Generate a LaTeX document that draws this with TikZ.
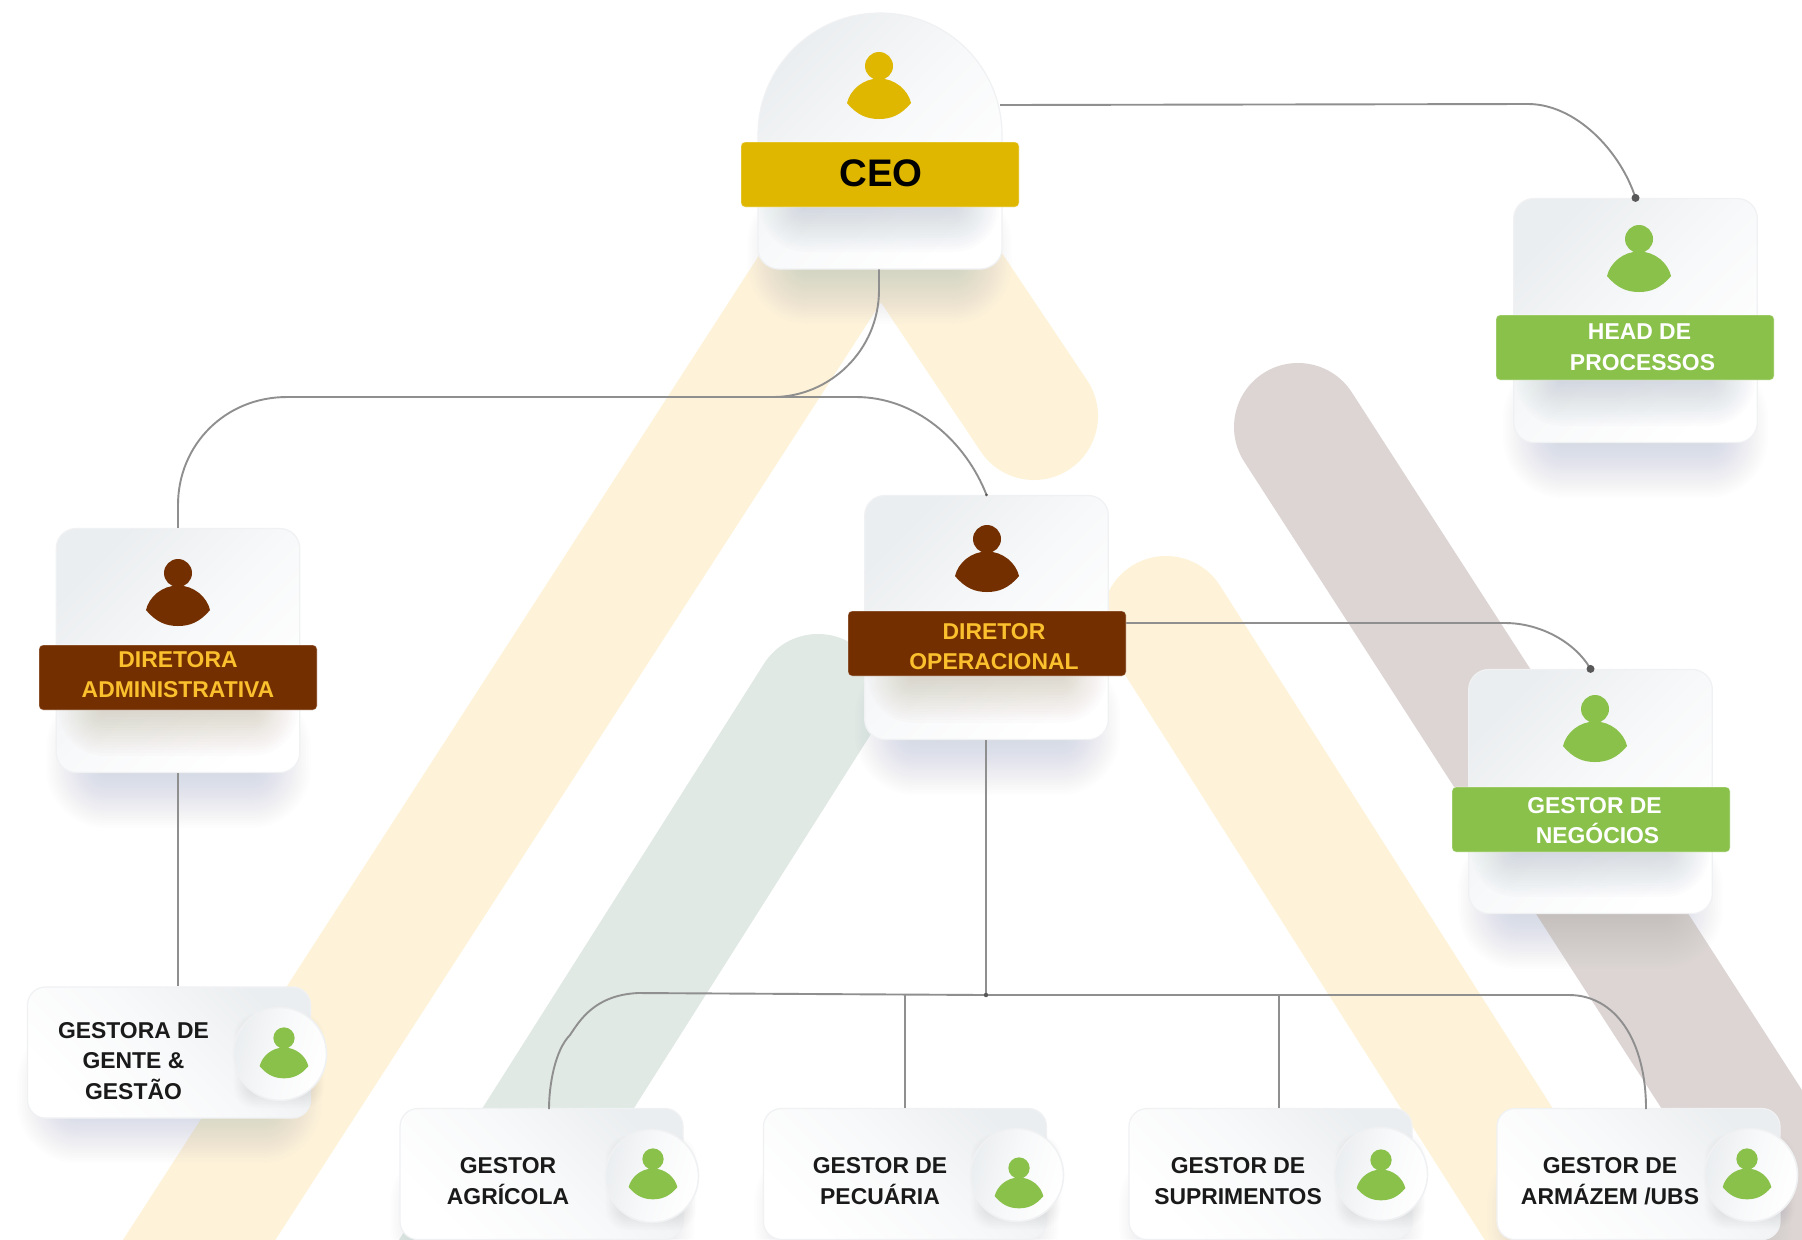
\documentclass[tikz,border=0pt]{standalone}
\usepackage{fontspec}
\setmainfont{Liberation Sans}
\usetikzlibrary{calc}
\definecolor{cyellow}{HTML}{DFB700}
\definecolor{cgreen}{HTML}{8AC14B}
\definecolor{cbrown}{HTML}{742F00}
\definecolor{ctext}{HTML}{FBC02D}
\definecolor{cdark}{HTML}{1A1A1A}
\definecolor{sy}{HTML}{FEF3D9}
\definecolor{sg}{HTML}{E0E9E3}
\definecolor{sb}{HTML}{DDD5D3}
\definecolor{cline}{HTML}{8F8F8F}
\definecolor{cedge}{HTML}{F0F1F3}
\definecolor{cgrey}{HTML}{EBEEF0}
\definecolor{cmid}{HTML}{F8F9FA}
\definecolor{shb}{HTML}{6E78AA}
\definecolor{shr}{HTML}{8A4A30}
\definecolor{shc}{HTML}{5A6478}
\tikzset{
  x=0.5pt,y=-0.5pt,
  stripe/.style={line width=64pt,line cap=round,line join=round},
  conn/.style={draw=cline,line width=0.95pt},
  vcard/.style={draw=cedge,line width=0.6pt,rounded corners=10pt,minimum width=121.8pt,minimum height=122pt,inner sep=0pt,
    top color=cgrey,bottom color=white,middle color=cmid,shading angle=45},
  hcard/.style={draw=cedge,line width=0.6pt,rounded corners=9pt,minimum width=141.5pt,minimum height=65.5pt,inner sep=0pt,
    top color=cgrey,bottom color=white,middle color=cmid,shading angle=-45},
  banner/.style={rounded corners=2pt,minimum width=139pt,minimum height=32.5pt,inner sep=0pt,draw=white,draw opacity=.45,line width=.4pt},
  ball/.style={circle,draw=cedge,line width=0.8pt,minimum size=46.5pt,inner sep=0pt,
    top color=cgrey,bottom color=white,middle color=cmid,shading angle=75},
  lab/.style={font=\bfseries\fontsize{11.45}{15.25}\selectfont,align=center,inner sep=0pt},
  dotn/.style={circle,fill=#1,minimum size=4pt,inner sep=0pt},
}
% soft shadow: x1 y1 x2 y2 colour steps growth opacity
\newcommand{\softsh}[8]{%
  \foreach \i in {#6,...,1}{%
    \pgfmathsetmacro{\gr}{\i*#7}
    \fill[#5,opacity=#8,rounded corners=\gr*0.5pt]
      (#1-\gr,#2-\gr) rectangle (#3+\gr,#4+\gr);
  }}
% person icon: head centre x y, scale, colour
\newcommand{\person}[4]{%
  \begin{scope}[shift={(#1,#2)}]
   \fill[#4] (0,0) circle[radius=#3*7pt];
   \fill[#4] (-32*#3,37*#3) .. controls (-29*#3,24*#3) and (-16*#3,12.5*#3) .. (0,12.5*#3)
      .. controls (16*#3,12.5*#3) and (29*#3,24*#3) .. (32*#3,37*#3)
      .. controls (22*#3,49*#3) and (12*#3,53*#3) .. (0,53*#3)
      .. controls (-12*#3,53*#3) and (-22*#3,49*#3) .. (-32*#3,37*#3) -- cycle;
  \end{scope}}
\newcommand{\vshadow}[2]{\softsh{#1+50}{#2+220}{#1+195}{#2+240}{shc}{24}{2.5}{0.008}}
\newcommand{\bannersh}[3]{\softsh{#1+48}{#2+170}{#1+197}{#2+183}{#3}{16}{2.8}{0.015}}
\newcommand{\bannershr}[2]{\softsh{#1+48}{#2+170}{#1+197}{#2+183}{shr}{16}{2.8}{0.01}}
\newcommand{\hshadow}[2]{\softsh{#1+50}{#2+95}{#1+235}{#2+116}{shc}{24}{2.5}{0.008}}
\newcommand{\ballsh}[2]{\softsh{#1-24}{#2-18}{#1+22}{#2+32}{shc}{14}{1.6}{0.012}}
\begin{document}
\begin{tikzpicture}
\useasboundingbox (0,0) rectangle (1802,1239);
\clip (0,0) rectangle (1802,1239);
\fill[white] (0,0) rectangle (1802,1239);
% background stripes
\draw[stripe,sy] (57,1460) -- (880,186) -- (1034,416);
\draw[stripe,sy] (1166,620) -- (1560,1239) -- (1640,1365);
\draw[stripe,sg] (818,698) -- (405,1350);
\draw[stripe,sb] (1298,427) -- (1900,1360);
% shadows under cards
\vshadow{1513}{198}
\vshadow{56}{528}
\vshadow{865}{495}
\vshadow{1468}{669}
\vshadow{757}{24}
\hshadow{27}{987}
\hshadow{400}{1109}
\hshadow{764}{1109}
\hshadow{1129}{1109}
\hshadow{1497}{1109}
% CEO card
\path[draw=cedge,line width=0.6pt,top color=cgrey,bottom color=white,middle color=cmid,shading angle=45]
  (758,249) .. controls (758,260) and (768,269) .. (779,269) -- (980,269)
  .. controls (991,269) and (1002,260) .. (1002,249) -- (1002,135)
  .. controls (1002,67) and (947,13) .. (880,13)
  .. controls (813,13) and (758,67) .. (758,135) -- cycle;
\node[minimum width=122pt,minimum height=128pt,inner sep=0pt] (ceocard) at (879,141) {};
% vertical cards
\node[vcard] (headcard) at (1635.5,320.5) {};
\node[vcard] (diracard) at (178,650.5) {};
\node[vcard] (diroCard) at (986.5,617.5) {};
\node[vcard] (negcard) at (1590.5,791.5) {};
\bannersh{757}{24}{shb}
\bannersh{1513}{198}{shb}
\bannershr{56}{528}
\bannershr{865}{495}
\bannersh{1468}{669}{shb}
% horizontal cards
\node[hcard] (gentecard) at (169,1052.5) {};
\node[hcard] (agrcard) at (541.5,1174) {};
\node[hcard] (peccard) at (905,1174) {};
\node[hcard] (supcard) at (1270.5,1174) {};
\node[hcard] (armcard) at (1638.5,1174) {};
% connectors
\coordinate (ceoright) at (1000,105);
\coordinate (a1) at (1528,104);
\draw[conn] (ceoright) -- (a1) .. controls (1575,104) and (1620,150) .. (headcard.north);
\coordinate (b1) at (879,290);
\coordinate (b2) at (773,397);
\coordinate (b3) at (287,397);
\coordinate (b4) at (856,397);
\draw[conn] (ceocard.south) -- (b1) .. controls (879,350) and (830,397) .. (b2) -- (b3)
   .. controls (225,397) and (178,445) .. (178,505) -- (diracard.north);
\draw[conn] (b2) -- (b4) .. controls (915,397) and (965,440) .. (diroCard.north);
\coordinate (c1) at (1505,623);
\draw[conn] (1126,623) -- (c1) .. controls (1540,623) and (1575,642) .. (negcard.north);
\draw[conn] (diracard.south) -- (gentecard.north -| diracard.south);
\coordinate (bus) at (986,995);
\draw[conn] (bus |- diroCard.south) -- (bus);
\coordinate (busl) at (638,993);
\coordinate (busr) at (1569,995);
\coordinate (jp) at (905,994);
\coordinate (js) at (1279,994);
\draw[conn] (busl) -- (bus) -- (busr);
\draw[conn] (busl) .. controls (595,995) and (580,1020) .. (570,1035) .. controls (555,1050) and (549,1085) .. (549,1109);
\draw[conn] (busr) .. controls (1615,995) and (1646,1040) .. (1646,1109);
\draw[conn] (jp) -- (jp |- peccard.north);
\draw[conn] (js) -- (js |- supcard.north);
\node[dotn=black!65] (d1) at (headcard.north) {};
\node[dotn=black!65] (d2) at (negcard.north) {};
\node[circle,fill=black!65,minimum size=2.2pt,inner sep=0pt] (d3) at (bus) {};
\node[circle,fill=black!65,minimum size=1.5pt,inner sep=0pt] (d4) at (diroCard.north) {};
% banners
\node[banner,fill=cyellow] (ceob) at (880,174.5) {};
\node[banner,fill=cgreen] (headb) at (1635,347.5) {};
\node[banner,fill=cbrown] (dirab) at (178,677.5) {};
\node[banner,fill=cbrown] (dirob) at (987,643.5) {};
\node[banner,fill=cgreen] (negb) at (1591,819.5) {};
% banner texts
\node[font=\bfseries\fontsize{19.2}{22}\selectfont,inner sep=0pt,text=black] (ceot) at (881,173) {CEO};
\node[lab,text=white] (headt) at (1642.5,347) {HEAD DE\hspace*{3pt}\\PROCESSOS};
\node[lab,text=ctext] (dirat) at (178,674.5) {DIRETORA\\ADMINISTRATIVA};
\node[lab,text=ctext] (dirot) at (994,646.5) {DIRETOR\\OPERACIONAL};
\node[lab,text=white] (negt) at (1597.5,820.5) {GESTOR DE\hspace*{3pt}\\NEGÓCIOS};
% icons big
\person{879}{66}{1}{cyellow}
\person{1639}{239}{1}{cgreen}
\person{178}{573}{1}{cbrown}
\person{987}{539}{1}{cbrown}
\person{1595}{709}{1}{cgreen}
% circle shadows + balls
\ballsh{280}{1054}
\ballsh{652}{1176}
\ballsh{1017}{1175}
\ballsh{1381}{1174}
\ballsh{1751}{1175}
\node[ball] (b-gente) at (280,1054) {};
\node[ball] (b-agr) at (652,1176) {};
\node[ball] (b-pec) at (1017,1175) {};
\node[ball] (b-sup) at (1381,1174) {};
\node[ball] (b-arm) at (1751,1175) {};
\person{284}{1038}{0.76}{cgreen}
\person{653}{1159}{0.76}{cgreen}
\person{1019}{1168}{0.76}{cgreen}
\person{1381}{1160}{0.76}{cgreen}
\person{1747}{1159}{0.76}{cgreen}
% card texts
\node[lab,text=cdark] (tgente) at (133.5,1061) {GESTORA DE\\GENTE \&\\GESTÃO};
\node[lab,text=cdark] (tagr) at (508,1181) {GESTOR\\AGRÍCOLA};
\node[lab,text=cdark] (tpec) at (880,1181) {GESTOR DE\\PECUÁRIA};
\node[lab,text=cdark] (tsup) at (1238,1181) {GESTOR DE\\SUPRIMENTOS};
\node[lab,text=cdark] (tarm) at (1610,1181) {GESTOR DE\\ARMÁZEM /UBS};
\end{tikzpicture}
\end{document}
